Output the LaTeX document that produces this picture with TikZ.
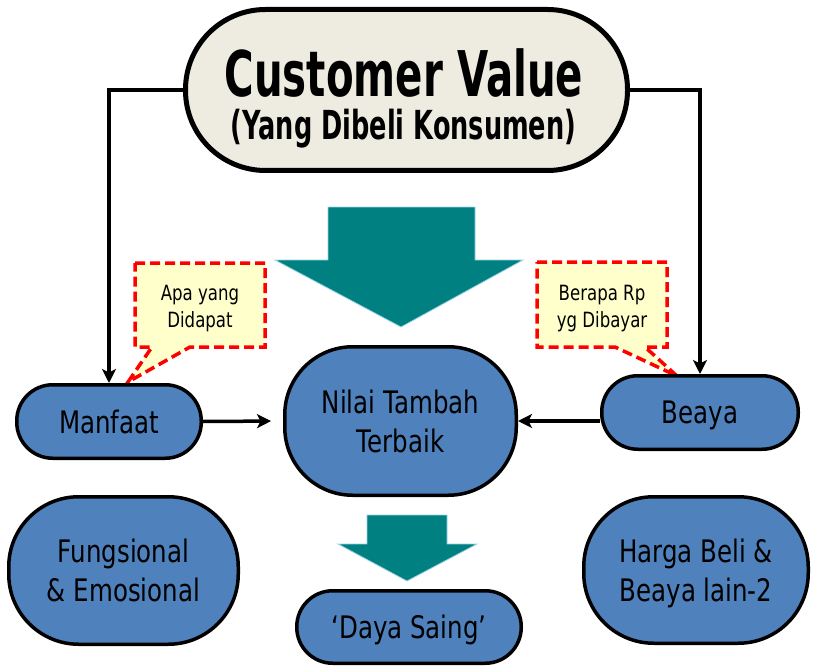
\documentclass[tikz,border=0pt]{standalone}
\usepackage{fontspec}
\setmainfont{DejaVu Sans}
\newfontfamily\ftitle{DejaVu Sans}[FakeStretch=0.64]
\newfontfamily\fmain{DejaVu Sans}[FakeStretch=0.79]
\usetikzlibrary{arrows.meta}
\definecolor{boxblue}{HTML}{4F81BD}
\definecolor{cream}{HTML}{EEECE1}
\definecolor{tealarrow}{HTML}{008080}
\definecolor{tealedge}{HTML}{9CD3E8}
\definecolor{callfill}{HTML}{FFFFCC}
\begin{document}
\begin{tikzpicture}[x=1pt,y=-1pt,
  bluebox/.style={draw=black, line width=3.5pt, fill=boxblue, align=center,
    inner sep=0pt, text depth=0pt, font=\fmain\fontsize{31}{39}\selectfont},
  conn/.style={line width=3.5pt, -{Stealth[length=14pt,width=14pt,inset=3.5pt]}},
  callout/.style={draw=red, fill=callfill, line width=3.5pt, dash pattern=on 10pt off 5pt, line join=miter},
  calltext/.style={align=center, inner sep=0pt, font=\fmain\fontsize{21}{27}\selectfont},
  bigarrow/.style={fill=tealarrow, draw=tealedge, line width=0.8pt}
]
\useasboundingbox (0,0) rectangle (814,666);

% title box
\node[draw=black, line width=5pt, fill=cream, rounded corners=80pt,
      minimum width=442pt, minimum height=161pt, inner sep=0pt] (cv) at (406.5,90) {};
\node[anchor=base, inner sep=0pt, font=\ftitle\bfseries\fontsize{63}{63}\selectfont] (cvt1) at (404,97) {Customer Value};
\node[anchor=base, inner sep=0pt, font=\ftitle\bfseries\fontsize{40}{40}\selectfont] (cvt2) at (403.5,140) {(Yang Dibeli Konsumen)};

% big teal arrow
\draw[bigarrow] (328,207) -- (475,207) -- (475,260) -- (523,260) -- (401,327) -- (275,260) -- (328,260) -- cycle;

% callouts
\draw[callout] (135,263) -- (265,263) -- (265,347) -- (190,347) -- (128,382) -- (152,347) -- (135,347) -- cycle;
\node[calltext] (ca) at (200,309) {Apa yang\\Didapat};
\draw[callout] (537,262) -- (667,262) -- (667,347) -- (645,347) -- (677,376) -- (615,347) -- (537,347) -- cycle;
\node[calltext] (cb) at (602,309) {Berapa Rp\\yg Dibayar};

% blue boxes
\node[bluebox, rounded corners=36pt, minimum width=184.5pt, minimum height=73.5pt] (man) at (109,421.5) {Manfaat};
\node[bluebox, rounded corners=68pt, minimum width=231.5pt, minimum height=148.5pt] (nil) at (400.5,421) {Nilai Tambah\\Terbaik};
\node[bluebox, rounded corners=36pt, minimum width=196.5pt, minimum height=73.5pt] (bea) at (700,412.5) {Beaya};
\node[bluebox, rounded corners=70pt, minimum width=229.5pt, minimum height=147.5pt] (fun) at (123.5,570.5) {Fungsional\\\& Emosional};
\node[bluebox, rounded corners=70pt, minimum width=224.5pt, minimum height=146.5pt] (har) at (696,570) {Harga Beli \&\\Beaya lain-2};
\node[bluebox, rounded corners=36pt, minimum width=224.5pt, minimum height=72.5pt] (day) at (409,627) {‘Daya Saing’};

% small teal arrow
\draw[bigarrow] (367,515) -- (447,515) -- (447,544) -- (477,544) -- (407,581) -- (338,544) -- (367,544) -- cycle;

% connectors
\draw[conn] (cv.west) -| (man.north);
\draw[conn] (cv.east) -| (bea.north);
\draw[conn, shorten >=12pt] (man.east) -- (nil.west);
\draw[conn] (bea.west |- nil.east) -- (nil.east);
\end{tikzpicture}
\end{document}
